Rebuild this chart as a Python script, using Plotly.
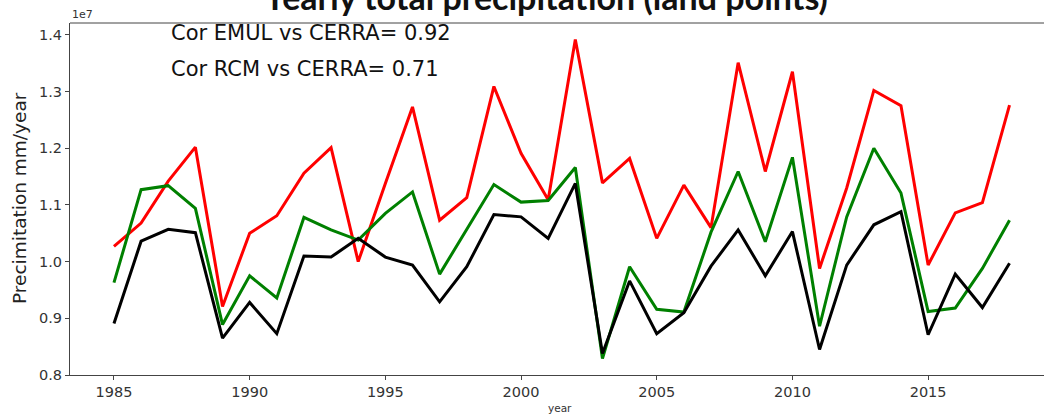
import plotly.graph_objects as go

years = list(range(1985, 2019))

# yearly totals (units of 1e7 mm/year)
rcm = [1.027, 1.068, 1.142, 1.202, 0.921, 1.050, 1.081, 1.156, 1.201, 1.000,
       1.138, 1.273, 1.073, 1.113, 1.309, 1.191, 1.109, 1.392, 1.139, 1.182,
       1.041, 1.135, 1.060, 1.351, 1.159, 1.335, 0.988, 1.130, 1.302, 1.275,
       0.994, 1.086, 1.104, 1.276]
emul = [0.963, 1.127, 1.134, 1.094, 0.889, 0.975, 0.936, 1.078, 1.056, 1.038,
        1.085, 1.123, 0.978, 1.056, 1.136, 1.105, 1.108, 1.166, 0.829, 0.991,
        0.916, 0.911, 1.052, 1.159, 1.035, 1.184, 0.886, 1.079, 1.200, 1.121,
        0.912, 0.918, 0.988, 1.073]
cerra = [0.891, 1.036, 1.057, 1.051, 0.865, 0.928, 0.873, 1.010, 1.008, 1.041,
         1.008, 0.994, 0.929, 0.991, 1.083, 1.079, 1.041, 1.138, 0.838, 0.966,
         0.873, 0.910, 0.992, 1.056, 0.975, 1.053, 0.845, 0.994, 1.065, 1.088,
         0.871, 0.978, 0.919, 0.997]

x_ticks = [1985, 1990, 1995, 2000, 2005, 2010, 2015]
y_ticks = [0.8, 0.9, 1.0, 1.1, 1.2, 1.3, 1.4]

title_text = "Yearly total precipitation (land points)"
cor_emul = "Cor EMUL vs CERRA= 0.92"
cor_rcm = "Cor RCM vs CERRA= 0.71"

fig = go.Figure()
for vals, col in [(rcm, "#ff0000"), (emul, "#008000"), (cerra, "#000000")]:
    fig.add_trace(go.Scatter(x=years, y=vals, mode="lines",
                             line=dict(color=col, width=3), showlegend=False))

axis_font = dict(family="DejaVu Sans", size=14.5, color="#333333")
fig.update_layout(
    width=1044, height=415,
    margin=dict(l=70, r=0, t=23, b=40),
    paper_bgcolor="white", plot_bgcolor="white",
    xaxis=dict(range=[1983.38, 2019.27], tickvals=x_ticks,
               ticks="outside", ticklen=4, tickcolor="#444",
               showline=True, linecolor="#444", linewidth=1,
               showgrid=False, zeroline=False, tickfont=axis_font),
    yaxis=dict(range=[0.8, 1.421], tickvals=y_ticks, tickformat=".1f",
               ticks="outside", ticklen=4, tickcolor="#444",
               showline=True, linecolor="#444", linewidth=1,
               showgrid=False, zeroline=False, tickfont=axis_font),
    shapes=[dict(type="line", xref="paper", yref="paper", x0=0, x1=1, y0=1, y1=1,
                 line=dict(color="#444", width=1))],
    annotations=[
        dict(text=title_text, xref="paper", yref="paper", x=0.4877, y=1.0114,
             xanchor="center", yanchor="bottom", showarrow=False,
             font=dict(family="Lato", size=34, color="#111111", weight="bold")),
        dict(text=cor_emul, xref="paper", yref="paper", x=0.1016, y=0.9716,
             xanchor="left", yanchor="middle", showarrow=False,
             font=dict(family="DejaVu Sans", size=21, color="#111111")),
        dict(text=cor_rcm, xref="paper", yref="paper", x=0.1016, y=0.869,
             xanchor="left", yanchor="middle", showarrow=False,
             font=dict(family="DejaVu Sans", size=21, color="#111111")),
        dict(text="1e7", xref="paper", yref="paper", x=0.0, y=1.0,
             xanchor="left", yanchor="bottom", showarrow=False,
             font=dict(family="DejaVu Sans", size=11, color="#333333")),
        dict(text="Precimitation mm/year", xref="paper", yref="paper", x=-0.0513, y=0.503,
             xanchor="center", yanchor="middle", textangle=-90, showarrow=False,
             font=dict(family="DejaVu Sans", size=18.5, color="#222222")),
        dict(text="year", xref="paper", yref="paper", x=0.503, y=-0.094,
             xanchor="center", yanchor="middle", showarrow=False,
             font=dict(family="DejaVu Sans", size=10.5, color="#333333")),
    ],
)

fig.write_html("out.html")
